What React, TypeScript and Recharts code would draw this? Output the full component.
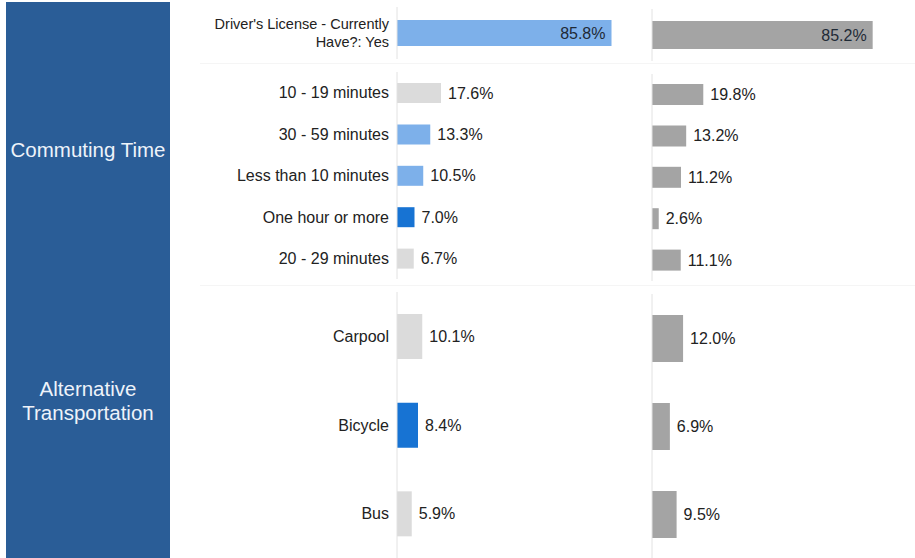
import React from 'react';
import { BarChart, Bar, XAxis, YAxis, Cell, LabelList } from 'recharts';

// rows of each block, top to bottom
const licenseLabels = ["Driver's License - Currently\nHave?: Yes"];
const licenseLeft = [85.8];
const licenseRight = [85.2];

const commuteLabels = ['10 - 19 minutes', '30 - 59 minutes', 'Less than 10 minutes', 'One hour or more', '20 - 29 minutes'];
const commuteLeft = [17.6, 13.3, 10.5, 7.0, 6.7];
const commuteRight = [19.8, 13.2, 11.2, 2.6, 11.1];

const transportLabels = ['Carpool', 'Bicycle', 'Bus'];
const transportLeft = [10.1, 8.4, 5.9];
const transportRight = [12.0, 6.9, 9.5];

const LIGHT_BLUE = '#7db0ea';
const DARK_BLUE = '#1773d3';
const LIGHT_GRAY = '#dbdbdb';
const MID_GRAY = '#a4a4a4';

const licenseColors = [LIGHT_BLUE];
const commuteColors = [LIGHT_GRAY, LIGHT_BLUE, LIGHT_BLUE, DARK_BLUE, LIGHT_GRAY];
const transportColors = [LIGHT_GRAY, DARK_BLUE, LIGHT_GRAY];
const grays = [MID_GRAY];

const FONT = '"Liberation Sans", Arial, sans-serif';
const AXIS_COLOR = '#e2e2e2';

const CategoryTick = ({ x, y, payload, fontSize }: any) => {
  const lines = String(payload.value).split('\n');
  const lh = fontSize * 1.2;
  const first = -((lines.length - 1) * lh) / 2 + fontSize * 0.35;
  return (
    <text x={x} y={y} textAnchor="end" fontSize={fontSize} fontFamily={FONT} fill="#222">
      {lines.map((l: string, i: number) => (
        <tspan key={i} x={x} dy={i === 0 ? first : lh}>{l}</tspan>
      ))}
    </text>
  );
};

const ValueLabel = ({ x, y, width, height, value }: any) => {
  const cy = y + height / 2 + 5.5;
  if (value > 50) {
    return (
      <text x={x + width - 6} y={cy} textAnchor="end" fontSize={16} fontFamily={FONT} fill="#1f2a36">
        {`${value.toFixed(1)}%`}
      </text>
    );
  }
  return (
    <text x={x + width + 7} y={cy} textAnchor="start" fontSize={16} fontFamily={FONT} fill="#222">
      {`${value.toFixed(1)}%`}
    </text>
  );
};

interface PanelProps {
  labels: string[];
  values: number[];
  colors: string[];
  left: number;
  top: number;
  height: number;
  barSize: number;
  axisWidth: number;
  plotWidth: number;
  showLabels: boolean;
  tickSize?: number;
}

const Panel: React.FC<PanelProps> = ({ labels, values, colors, left, top, height, barSize, axisWidth, plotWidth, showLabels, tickSize = 16 }) => {
  const data = labels.map((name, i) => ({ name, value: values[i] }));
  return (
    <div style={{ position: 'absolute', left, top }}>
      <BarChart
        layout="vertical"
        width={axisWidth + plotWidth}
        height={height}
        data={data}
        margin={{ top: 0, right: 0, bottom: 0, left: 0 }}
        barCategoryGap={0}
      >
        <XAxis type="number" domain={[0, 100]} hide />
        <YAxis
          type="category"
          dataKey="name"
          width={axisWidth}
          axisLine={{ stroke: AXIS_COLOR }}
          tickLine={false}
          tick={showLabels ? <CategoryTick fontSize={tickSize} /> : false}
          interval={0}
        />
        <Bar dataKey="value" barSize={barSize} isAnimationActive={false}>
          {data.map((_, i) => (
            <Cell key={`cell-${i}`} fill={colors[i % colors.length]} />
          ))}
          <LabelList dataKey="value" content={<ValueLabel />} />
        </Bar>
      </BarChart>
    </div>
  );
};

export default function App() {
  const L = 180;
  const LW = 217;
  const LP = 250;
  const R = 651;
  const RP = 259;
  return (
    <div style={{ position: 'absolute', left: 0, top: 0, width: 915, height: 558, background: '#fff', fontFamily: FONT, overflow: 'hidden' }}>
      <div style={{ position: 'absolute', left: 6, top: 2, width: 164, height: 556, background: '#2a5d97' }} />
      <div style={{ position: 'absolute', left: 6, width: 164, top: 137, textAlign: 'center', color: '#eef3fa', fontSize: 20.5, lineHeight: '26px', whiteSpace: 'nowrap' }}>
        Commuting Time
      </div>
      <div style={{ position: 'absolute', left: 6, width: 164, top: 377, textAlign: 'center', color: '#eef3fa', fontSize: 20.5, lineHeight: '24px' }}>
        Alternative<br />Transportation
      </div>

      <div style={{ position: 'absolute', left: 200, top: 63, width: 715, height: 1, background: '#f5f5f5' }} />
      <div style={{ position: 'absolute', left: 200, top: 285, width: 715, height: 1, background: '#f5f5f5' }} />

      <Panel labels={licenseLabels} values={licenseLeft} colors={licenseColors} left={L} top={7} height={52} barSize={26} axisWidth={LW} plotWidth={LP} showLabels tickSize={14.5} />
      <Panel labels={licenseLabels} values={licenseRight} colors={grays} left={R} top={9} height={52} barSize={28} axisWidth={1} plotWidth={RP} showLabels={false} />

      <Panel labels={commuteLabels} values={commuteLeft} colors={commuteColors} left={L} top={72} height={207} barSize={20} axisWidth={LW} plotWidth={LP} showLabels />
      <Panel labels={commuteLabels} values={commuteRight} colors={grays} left={R} top={74} height={207} barSize={21} axisWidth={1} plotWidth={RP} showLabels={false} />

      <Panel labels={transportLabels} values={transportLeft} colors={transportColors} left={L} top={292} height={266} barSize={45} axisWidth={LW} plotWidth={LP} showLabels />
      <Panel labels={transportLabels} values={transportRight} colors={grays} left={R} top={294} height={264} barSize={47} axisWidth={1} plotWidth={RP} showLabels={false} />
    </div>
  );
}
